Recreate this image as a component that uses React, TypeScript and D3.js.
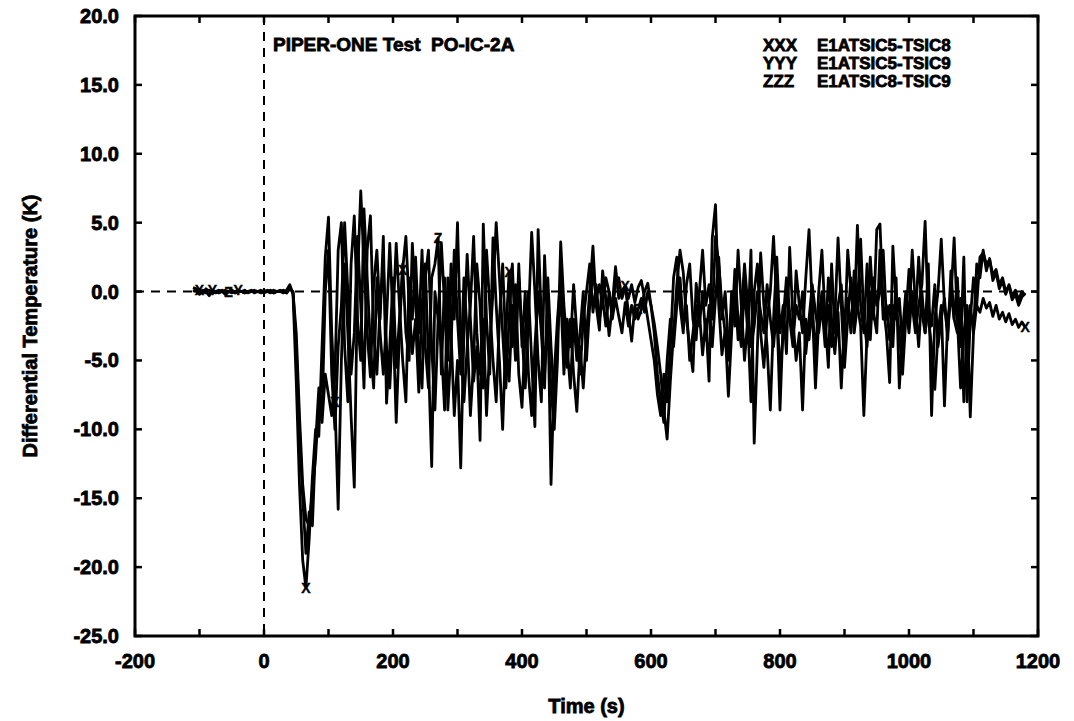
import React from 'react';
import * as d3 from 'd3';

// time grid: first sample and step (s)
const tStart = -110;
const tStep = 5;

// E1ATSIC5-TSIC8 (X), one row of 20 values per 100 s
const valuesX = [
  0.3, 0.2, 0.1, 0.0, -0.1, 0.1, 0.0, -0.1, 0.0, 0.1, -0.1, 0.0, 0.1, -0.1, 0.0, 0.0, -0.1, 0.0, 0.1, -0.1,
  0.0, 0.0, -0.1, 0.0, 0.1, -0.1, 0.0, 0.0, -0.1, 0.1, 0.5, -0.2, -6.5, -14.0, -19.5, -21.5, -18.0, -13.5, -10.0, -10.5,
  -4.0, 2.5, 5.4, -3.0, -8.0, -15.8, -5.0, 2.0, -3.0, -9.0, -14.2, 1.0, 7.3, 2.0, -3.0, -6.2, 0.5, 3.0, -2.0, 4.0,
  -8.1, -4.0, 1.0, -5.5, -2.0, 1.6, 4.0, -1.0, -4.5, -2.0, -7.3, -1.0, 2.0, -5.0, -12.7, 0.0, -2.0, -4.0, -8.6, 1.0,
  -3.0, -9.0, -5.0, -12.8, -3.0, 2.7, -2.0, -6.5, -4.0, -10.8, 4.9, -2.0, -6.0, 3.9, -1.0, -5.0, -10.0, -3.0, 1.4, -4.0,
  0.5, -6.0, -8.4, -3.0, 0.0, -5.0, -9.8, 4.5, -2.0, -6.0, -1.0, -14.0, -6.0, -2.0, 1.1, -3.0, -5.5, -2.0, -6.0, -8.7,
  -4.0, -7.0, -3.0, 0.0, 3.3, -1.0, -2.8, 1.5, -0.5, -3.2, -1.0, 1.8, -0.5, 0.0, 0.4, -1.5, -3.6, -1.0, -2.0, -1.3,
  0.0, 0.6, -1.0, -2.3, -4.0, -6.0, -8.6, -10.7, -6.5, -3.0, 0.5, 3.0, 1.4, -2.0, -4.0, -5.8, 0.6, -1.5, -4.6, -2.0,
  -6.5, 3.9, 6.3, -1.0, -4.6, -2.8, -7.6, -3.0, 1.6, -2.0, -4.0, 0.5, -3.0, 3.0, -11.0, -4.0, 2.8, -1.0, -4.0, -8.6,
  -2.0, 2.5, -3.0, -1.0, -4.5, 3.2, -2.0, -5.0, -3.0, -8.6, -2.0, -3.5, -1.0, -7.0, -2.0, 0.0, -3.0, -1.0, -4.0, -2.0,
  3.9, -1.0, -5.5, -2.0, 1.0, -3.0, -1.0, 3.8, -2.0, -4.0, 0.0, -2.0, 4.5, 4.9, -1.0, -3.0, -6.6, 3.3, -1.0, -3.0,
  -6.0, -2.0, 1.6, -1.0, -3.0, -1.0, 0.5, 5.1, -2.0, -4.0, -7.1, -3.0, -1.0, -8.3, -2.0, -0.5, 3.9, -2.0, -7.0, -3.0,
  -1.0, -9.1, -3.0, -1.0, -1.5, -0.5, -1.2, -0.8, -1.8, -1.0, -2.0, -1.5, -2.2, -1.6, -2.4, -2.0, -2.6, -2.2, -2.6,
];

// E1ATSIC5-TSIC9 (Y)
const valuesY = [
  0.1, 0.0, -0.2, 0.1, 0.0, -0.3, 0.1, 0.0, -0.1, 0.0, 0.1, 0.0, -0.1, 0.0, 0.1, 0.0, -0.1, 0.0, 0.0, 0.1,
  0.0, -0.1, 0.0, 0.1, 0.0, -0.1, 0.0, 0.1, 0.0, -0.1, 0.3, -0.1, -3.0, -9.0, -14.0, -16.5, -17.0, -14.5, -12.0, -8.0,
  -9.5, -6.0, -7.5, -9.0, -6.0, 3.0, 5.0, -4.0, -8.0, 2.0, 5.5, -2.0, -5.0, 6.0, 1.0, -4.0, -7.0, 1.0, -3.0, -6.0,
  -2.0, 3.5, -2.0, -9.5, -3.0, 2.0, -3.0, -5.0, 3.5, -1.0, -4.0, -7.0, 1.0, 3.0, -4.0, -8.6, -2.0, 3.5, -1.0, -5.0,
  2.0, -2.0, 5.0, -4.0, -8.0, -4.0, -1.0, 4.0, -3.0, -6.0, -2.0, -9.0, -4.0, 0.0, 5.0, 1.0, -3.0, -7.0, -2.0, 2.0,
  -4.0, 1.0, -3.0, -7.0, -2.0, 4.3, 0.0, -5.0, -8.0, 2.6, -3.0, -7.0, -10.0, -5.0, 3.6, -1.0, -4.0, -7.0, -2.0, -5.0,
  -3.0, 0.0, -5.0, -1.0, 1.5, -0.5, 0.5, -1.0, 1.0, 0.0, -1.5, 0.5, 1.0, -0.5, 0.3, -0.5, 0.5, -0.8, 0.3, 0.8,
  -0.5, -2.0, -3.5, -5.0, -7.5, -9.0, -6.0, -8.0, -4.0, 1.0, 2.5, -1.0, -3.0, 0.5, 2.0, -2.0, -3.5, 0.0, 3.0, -1.0,
  0.5, -2.0, 4.0, 2.0, -1.0, -3.0, -5.0, 0.0, -2.5, 3.0, -1.0, -5.0, -2.0, -8.0, 0.0, 2.0, -3.0, -5.5, -2.0, 0.0,
  4.0, -1.0, -6.0, -3.0, 0.0, -2.0, -4.0, 1.5, -1.0, -3.0, 1.0, 4.5, -1.0, -5.0, 0.0, 3.0, -2.0, -5.5, 2.0, -3.0,
  -1.0, 0.5, -3.5, 3.0, 0.0, -2.0, 4.8, -1.0, -3.0, 2.0, -3.5, 1.0, -1.0, 0.0, 3.0, -2.0, -1.0, -4.0, 1.0, -7.0,
  -3.0, 0.0, -2.0, 3.0, -1.0, -4.0, 0.0, -3.0, 2.0, -9.0, -2.0, 0.0, 3.8, -1.0, -3.0, 0.0, -2.0, 1.0, -4.0, 2.5,
  -8.0, -2.0, 1.0, -1.0, 2.5, 2.8, 2.0, 2.3, 1.2, 1.6, 0.5, 1.0, 0.0, 0.4, -0.6, -0.2, -1.0, -0.4, -0.1,
];

// E1ATSIC8-TSIC9 (Z)
const valuesZ = [
  0.0, 0.1, 0.0, -0.1, 0.2, 0.0, -0.1, 0.0, 0.1, 0.0, -0.2, 0.0, 0.1, -0.1, 0.0, 0.0, 0.1, -0.1, 0.0, 0.0,
  0.0, 0.1, 0.0, 0.0, -0.1, 0.1, 0.0, 0.0, 0.1, -0.1, 0.2, 0.0, -4.0, -10.0, -15.0, -19.0, -16.0, -17.0, -11.0, -7.0,
  -9.0, 0.0, 3.0, -6.0, -10.0, -4.0, -1.0, 5.0, 0.0, -6.0, -3.0, 4.0, -1.0, -7.0, 3.0, 5.5, -3.0, -6.0, -1.0, 2.0,
  -4.0, -7.0, -2.0, 3.5, -1.0, -5.0, -8.0, 1.0, -2.0, 2.5, -3.0, 3.0, -4.0, -7.0, 1.0, 2.0, 3.9, -6.0, 1.0, -8.6,
  -4.0, 3.0, -2.0, -6.0, 1.0, -3.0, -9.0, -5.0, 2.0, -1.0, -7.0, 3.0, -1.0, -5.0, -8.0, -2.0, 2.0, -4.0, -6.5, -1.0,
  -5.0, 2.0, -4.0, 0.0, -6.0, -9.0, -4.0, 0.0, -3.0, -7.0, 1.0, -4.0, -8.0, -3.0, 0.0, -6.0, -2.0, -4.0, 0.5, -3.0,
  -6.0, -2.0, 0.0, 2.0, -1.5, 0.5, -2.0, -0.5, -2.5, 0.0, -2.0, -0.5, -1.8, -3.0, -0.8, -2.5, -1.0, -2.0, -1.3, -0.5,
  -1.5, 0.0, -1.0, -3.0, -6.0, -8.0, -9.5, -5.0, -2.0, -4.0, -1.0, 1.0, -2.5, -1.0, -5.0, -3.0, -1.0, -2.5, 0.0, -3.5,
  -1.0, -4.0, -0.5, 2.5, -2.0, 0.0, -4.0, -2.0, 0.5, -3.5, -1.5, 2.0, -1.0, -4.0, -2.5, 0.0, -1.5, -3.0, 0.5, -2.0,
  -4.0, -1.0, -8.6, -2.0, 1.0, -1.5, -3.5, -1.0, -2.0, 0.0, -4.5, -2.0, 0.5, -1.5, -3.0, -1.0, -4.0, 1.0, -2.0, -4.5,
  -1.5, -7.0, -2.0, -0.5, -3.0, 1.5, -1.0, -2.5, -9.0, -3.0, 2.5, -1.5, -3.0, 3.0, -2.0, -1.0, -3.5, -1.0, -2.0, -0.5,
  -4.0, -1.0, -3.0, 0.0, -2.0, 2.5, -1.5, -3.0, -1.0, -2.5, 0.5, -4.0, -2.0, -0.5, -3.5, 1.5, -2.0, -3.0, -0.5, -8.0,
  -2.5, -1.0, -3.0, 2.0, 1.0, 3.0, 1.5, 2.4, 0.8, 1.4, 0.2, 0.8, -0.2, 0.5, -0.3, 0.1, -0.6, 0.0, -0.3,
];

// times (s) where the symbol letters are printed on each curve
const markersX = [-100, 65, 110, 215, 380, 560, 1180];
const markersY = [-80, -40];
const markersZ = [-55, 270, 580];

const seriesNames = ['E1ATSIC5-TSIC8', 'E1ATSIC5-TSIC9', 'E1ATSIC8-TSIC9'];
const seriesSymbols = ['X', 'Y', 'Z'];

const xTicks = d3.range(-200, 1201, 100);
const xLabels = d3.range(-200, 1201, 200);
const yTicks = d3.range(-25, 21, 5);

const title = 'PIPER-ONE Test  PO-IC-2A';

const W = 1074;
const H = 721;
const margin = { left: 135, right: 1038, top: 16, bottom: 636 };
const font = '"Liberation Sans", Arial, Helvetica, sans-serif';

export default function App() {
  const x = d3.scaleLinear().domain([-200, 1200]).range([margin.left, margin.right]);
  const y = d3.scaleLinear().domain([-25, 20]).range([margin.bottom, margin.top]);

  const all = [
    { values: valuesX, markers: markersX },
    { values: valuesY, markers: markersY },
    { values: valuesZ, markers: markersZ },
  ];

  const line = d3.line<number>()
    .x((_, i) => x(tStart + i * tStep))
    .y((v) => y(v));

  const txt = { fontFamily: font, fontWeight: 700, fill: '#000', stroke: '#000', strokeWidth: 0.8 } as const;

  return (
    <svg width={W} height={H} style={{ position: 'absolute', left: 0, top: 0, background: '#fff' }}>
      <rect x={0} y={0} width={W} height={H} fill="#fff" />

      {/* zero reference lines */}
      <line x1={x(0)} x2={x(0)} y1={margin.top} y2={margin.bottom} stroke="#000" strokeWidth={2} strokeDasharray="9,7" />
      <line x1={margin.left} x2={margin.right} y1={y(0)} y2={y(0)} stroke="#000" strokeWidth={2} strokeDasharray="9,7" />

      {/* curves */}
      <g fill="none" stroke="#000" strokeWidth={2.8} strokeLinejoin="round">
        {all.slice().reverse().map((s, i) => (
          <path key={i} d={line(s.values) || ''} />
        ))}
      </g>

      {/* symbols on curves */}
      <g>
        {all.map((s, k) =>
          s.markers.map((t) => {
            const i = Math.round((t - tStart) / tStep);
            return (
              <text key={k + '-' + t} x={x(t)} y={y(s.values[i])} textAnchor="middle" dominantBaseline="central"
                fontSize={14} {...txt} strokeWidth={0.4}>
                {seriesSymbols[k]}
              </text>
            );
          })
        )}
      </g>

      {/* frame */}
      <rect x={margin.left} y={margin.top} width={margin.right - margin.left} height={margin.bottom - margin.top}
        fill="none" stroke="#000" strokeWidth={3} />

      {/* ticks */}
      <g stroke="#000" strokeWidth={2.5}>
        {xTicks.map((t) => (
          <g key={'xt' + t}>
            <line x1={x(t)} x2={x(t)} y1={margin.bottom} y2={margin.bottom - 7} />
            <line x1={x(t)} x2={x(t)} y1={margin.top} y2={margin.top + 7} />
          </g>
        ))}
        {yTicks.map((v) => (
          <g key={'yt' + v}>
            <line x1={margin.left} x2={margin.left + 7} y1={y(v)} y2={y(v)} />
            <line x1={margin.right} x2={margin.right - 7} y1={y(v)} y2={y(v)} />
          </g>
        ))}
      </g>

      {/* tick labels */}
      <g fontSize={20} {...txt}>
        {xLabels.map((t) => (
          <text key={'xl' + t} x={x(t)} y={668} textAnchor="middle">{t}</text>
        ))}
        {yTicks.map((v) => (
          <text key={'yl' + v} x={119} y={y(v)} textAnchor="end" dominantBaseline="central">{v.toFixed(1)}</text>
        ))}
      </g>

      {/* axis titles */}
      <text x={(margin.left + margin.right) / 2} y={713} textAnchor="middle" fontSize={20} {...txt}>Time (s)</text>
      <text transform={`translate(37, ${(margin.top + margin.bottom) / 2}) rotate(-90)`} textAnchor="middle"
        fontSize={20} {...txt}>Differential Temperature (K)</text>

      {/* title and legend */}
      <text x={273} y={51} fontSize={19} {...txt} style={{ whiteSpace: 'pre' }}>{title}</text>
      <g fontSize={17} {...txt}>
        {seriesNames.map((n, i) => (
          <g key={n}>
            <text x={763} y={51 + i * 18}>{seriesSymbols[i].repeat(3)}</text>
            <text x={817} y={51 + i * 18}>{n}</text>
          </g>
        ))}
      </g>
    </svg>
  );
}
